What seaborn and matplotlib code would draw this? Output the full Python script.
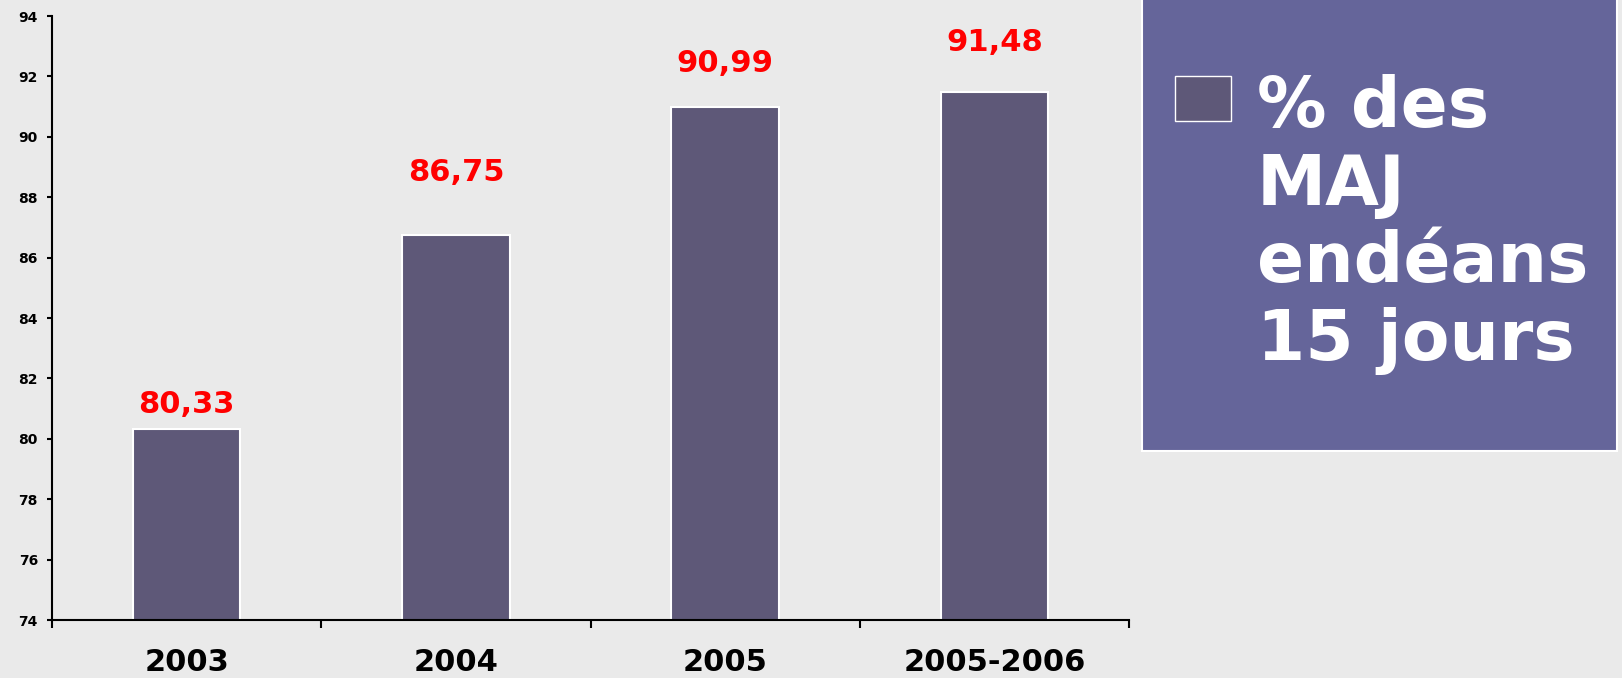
import matplotlib
matplotlib.use("Agg")
import matplotlib.pyplot as plt
from matplotlib.patches import Rectangle
import seaborn as sns

# data
years = ["2003", "2004", "2005", "2005-2006"]
pct_maj = [80.33, 86.75, 90.99, 91.48]
series_label = "% des\nMAJ\nendéans\n15 jours"

# style
bar_color = "#5E5878"
box_color = "#65659A"
bg_color = "#EAEAEA"
label_offsets = [11.5, 39, 25, 29.5]  # points above each bar

sns.set_style("ticks")
plt.rcParams["font.family"] = ["DejaVu Sans"]
plt.rcParams["text.color"] = "black"
plt.rcParams["xtick.color"] = "black"
plt.rcParams["ytick.color"] = "black"

fig = plt.figure(figsize=(16.22, 6.78), dpi=100, facecolor=bg_color)
W, H = 1622, 678
ax = fig.add_axes([52 / W, 1 - 620 / H, (1129 - 52) / W, (620 - 16) / H])
ax.set_facecolor(bg_color)

sns.barplot(
    x=years,
    y=pct_maj,
    color=bar_color,
    saturation=1,
    width=0.4,
    edgecolor="white",
    linewidth=1.5,
    ax=ax,
)

ax.set_ylim(74, 94)
ax.set_yticks(range(74, 95, 2))
ax.set_xlim(-0.5, len(years) - 0.5)

for i, v in enumerate(pct_maj):
    ax.annotate(
        f"{v:.2f}".replace(".", ","),
        xy=(i, v),
        xytext=(0, label_offsets[i]),
        textcoords="offset points",
        ha="center",
        va="baseline",
        color="red",
        fontsize=22,
        fontweight="bold",
    )

# axis look
sns.despine(ax=ax)
for side in ["left", "bottom"]:
    ax.spines[side].set_linewidth(1.5)
    ax.spines[side].set_color("black")

ax.tick_params(axis="y", length=3.6, width=1.5, pad=6.5, labelsize=10,
               labelcolor="black")
for lab in ax.get_yticklabels():
    lab.set_fontweight("bold")

ax.tick_params(axis="x", which="major", length=0, pad=20, labelsize=22,
               labelcolor="black")
for lab in ax.get_xticklabels():
    lab.set_fontweight("bold")
ax.set_xticks([k - 0.5 for k in range(len(years) + 1)], minor=True)
ax.tick_params(axis="x", which="minor", length=6, width=1.5, direction="out")
ax.set_xlabel("")
ax.set_ylabel("")

# legend box on the right
fig.patches.append(Rectangle((1142 / W, 1 - 451 / H), (1617 - 1142) / W, 460 / H,
                             transform=fig.transFigure, facecolor=box_color,
                             edgecolor="white", linewidth=1.5, zorder=0))
fig.patches.append(Rectangle((1175 / W, 1 - 121 / H), 56 / W, 45 / H,
                             transform=fig.transFigure, facecolor=bar_color,
                             edgecolor="white", linewidth=1, zorder=1))
fig.text(1257 / W, 1 - 74 / H, series_label, color="white", fontsize=50,
         fontweight="bold", ha="left", va="top", linespacing=1.2)

fig.savefig("out.png", dpi=100, facecolor=bg_color)
